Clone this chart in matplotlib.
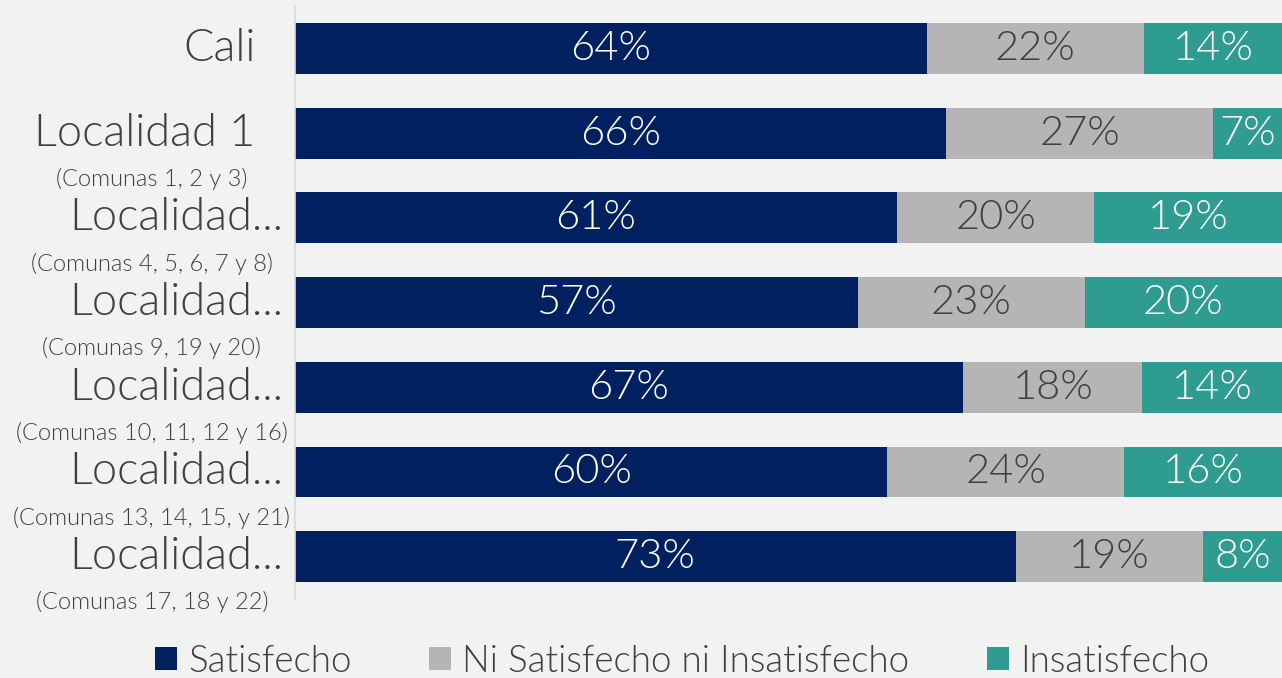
import matplotlib
matplotlib.use("Agg")
import matplotlib.pyplot as plt
from matplotlib.patches import Patch

plt.rcParams["font.family"] = ["Lato", "DejaVu Sans"]
W = 300  # Lato Light

labels = ["Cali", "Localidad 1", "Localidad...", "Localidad...", "Localidad...", "Localidad...", "Localidad..."]
sublabels = ["", "(Comunas 1, 2 y 3)", "(Comunas 4, 5, 6, 7 y 8)", "(Comunas 9, 19 y 20)",
             "(Comunas 10, 11, 12 y 16)", "(Comunas 13, 14, 15, y 21)", "(Comunas 17, 18 y 22)"]
satisfecho = [64, 66, 61, 57, 67, 60, 73]
neutral = [22, 27, 20, 23, 18, 24, 19]
insatisfecho = [14, 7, 19, 20, 14, 16, 8]

series = ["Satisfecho", "Ni Satisfecho ni Insatisfecho", "Insatisfecho"]
colors = ["#002060", "#b5b5b5", "#2e9c90"]
text_colors = ["white", "#404040", "white"]

bg = "#f2f2f2"
fig = plt.figure(figsize=(12.82, 6.78), dpi=100, facecolor=bg)
ax = fig.add_axes([0.2301, 0.1165, 0.7699, 0.8745], facecolor=bg)

ypos = list(range(len(labels)))
totals = [a + b + c for a, b, c in zip(satisfecho, neutral, insatisfecho)]
left = [0.0] * len(labels)
for vals, col, tcol in zip([satisfecho, neutral, insatisfecho], colors, text_colors):
    widths = [v / t * 100 for v, t in zip(vals, totals)]
    ax.barh(ypos, widths, left=left, height=0.6, color=col, edgecolor="none")
    for y, l, w, v in zip(ypos, left, widths, vals):
        ax.text(l + w / 2, y, f"{v}%", ha="center", va="center", color=tcol,
                fontsize=30, fontweight=W)
    left = [l + w for l, w in zip(left, widths)]

ax.set_xlim(0, 100)
ax.set_ylim(len(labels) - 0.5, -0.5)
ax.set_xticks([])
ax.set_yticks([])
for s in ["top", "right", "bottom"]:
    ax.spines[s].set_visible(False)
ax.spines["left"].set_color("#d9d9d9")
ax.spines["left"].set_linewidth(1.2)

for y, lab, sub in zip(ypos, labels, sublabels):
    xr = -0.012 if lab.endswith("...") else -0.04
    ax.text(xr, y, lab, transform=ax.get_yaxis_transform(), ha="right", va="center",
            fontsize=32.5, fontweight=W, color="#404040")
    if sub:
        ax.text(-0.145, y + 0.54, sub, transform=ax.get_yaxis_transform(), ha="center",
                va="center", fontsize=17, fontweight=W, color="#404040")

handles = [Patch(facecolor=c, edgecolor="none") for c in colors]
fig.legend(handles, series, loc="lower center", bbox_to_anchor=(0.532, -0.05), ncol=3,
           frameon=False, handlelength=0.6, handleheight=0.6,
           handletextpad=0.3, columnspacing=2.1,
           prop={"family": "Lato", "size": 26.5, "weight": W},
           labelcolor="#404040")

fig.savefig("out.png", dpi=100, facecolor=bg)
